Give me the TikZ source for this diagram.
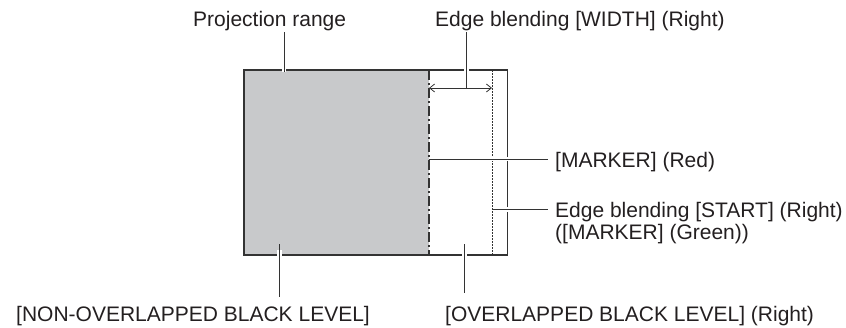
\documentclass[tikz,border=0pt]{standalone}
\usepackage{fontspec}
\setmainfont{Liberation Sans}
\usetikzlibrary{arrows.meta}
\definecolor{ln}{HTML}{333333}
\definecolor{fillg}{HTML}{C8C9CB}
\definecolor{txt}{HTML}{231F20}
\begin{document}
\begin{tikzpicture}[x=1pt,y=-1pt,
  lbl/.style={inner sep=0pt, anchor=base west, font=\fontsize{21}{22}\selectfont, text=txt},
  border/.style={draw=ln, line width=1.5pt},
  leader/.style 2 args={draw=ln, line width=1pt,
    preaction={draw=white, line width=4.5pt, shorten <=#1, shorten >=#2}},
  barb/.tip={Straight Barb[length=5pt,width=8pt,line width=0.8pt]},
]
\useasboundingbox (0,0) rectangle (846,327);
% screen
\coordinate (tl) at (244,70);
\coordinate (br) at (507.5,255);
\coordinate (mt) at (429,70);
\coordinate (mb) at (429,255);
\coordinate (st) at (492,70);
\coordinate (sb) at (492,255);
\fill[fillg] (tl) rectangle (mb);
\draw[border] (tl) rectangle (br);
\draw[ln, line width=1.5pt, dash pattern=on 10pt off 3pt on 2pt off 3pt] (mt) -- (mb);
\draw[ln, line width=1pt, dash pattern=on 1.5pt off 1.5pt] (st) -- (sb);
\coordinate (aw) at (429,88);
\coordinate (ae) at (492,88);
\draw[ln, line width=0.8pt, barb-barb] (aw) -- (ae);
% labels
\node[lbl] (proj) at (193,26) {Projection range};
\node[lbl] (ebw) at (435,26) {Edge blending [WIDTH] (Right)};
\node[lbl] (mkr) at (555,167) {[MARKER] (Red)};
\node[lbl] (ebs) at (555,217) {Edge blending [START] (Right)};
\node[lbl] (ebs2) at (555,239) {([MARKER] (Green))};
\node[lbl] (nol) at (16,321) {[NON-OVERLAPPED BLACK LEVEL]};
\node[lbl] (ol) at (445,321) {[OVERLAPPED BLACK LEVEL] (Right)};
% leader ends
\coordinate (p1) at (284,32);   \coordinate (p2) at (284,72);
\coordinate (w1) at (466.7,32); \coordinate (w2) at (466.7,88);
\coordinate (m1) at (429,159);  \coordinate (m2) at (548,159);
\coordinate (s1) at (492,209.3);\coordinate (s2) at (548,209.3);
\coordinate (n1) at (279.3,244);\coordinate (n2) at (279.3,297);
\coordinate (o1) at (464.3,244);\coordinate (o2) at (464.3,293);
% leaders
\draw[leader={30pt}{0pt}] (p1) -- (p2);
\draw[leader={28pt}{10pt}] (w1) -- (w2);
\draw[leader={6pt}{3pt}] (m1) -- (m2);
\draw[leader={6pt}{3pt}] (s1) -- (s2);
\draw[leader={6pt}{35pt}] (n1) -- (n2);
\draw[leader={6pt}{31pt}] (o1) -- (o2);
\end{tikzpicture}
\end{document}
